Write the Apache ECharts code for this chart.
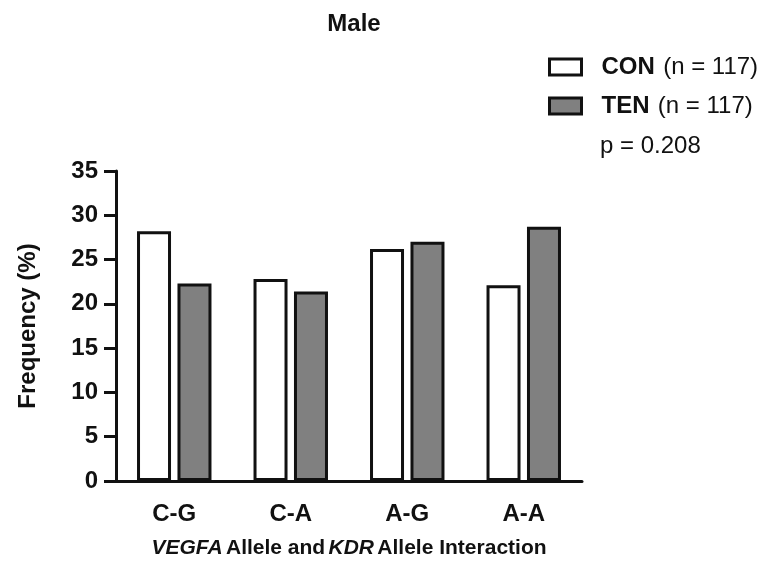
<!DOCTYPE html>
<html>
<head>
<meta charset="utf-8">
<script src="https://cdn.jsdelivr.net/npm/echarts@6/dist/echarts.min.js"></script>
<style>
  html, body { margin: 0; padding: 0; background: #fff; }
  #chart { width: 765px; height: 561px; }
</style>
</head>
<body>
<div id="chart"></div>
<script>
// haplotype categories
var categories = ["C-G", "C-A", "A-G", "A-A"];
// frequency (%) per group
var conData = [28.2, 22.8, 26.2, 22.1];
var tenData = [22.3, 21.4, 27.0, 28.7];
var yTicks = [0, 5, 10, 15, 20, 25, 30, 35];

var FONT = "'Liberation Sans', Arial, Helvetica, sans-serif";

var chart = echarts.init(document.getElementById("chart"));

var option = {
  animation: false,
  backgroundColor: "#fff",
  title: [
    {
      text: "Male",
      left: 349,
      top: 7,
      textAlign: "center",
      textStyle: { fontFamily: FONT, fontSize: 24, fontWeight: "bold", color: "#111" }
    },
    {
      text: "p = 0.208",
      left: 595,
      top: 129,
      textStyle: { fontFamily: FONT, fontSize: 24, fontWeight: "normal", color: "#111" }
    }
  ],
  legend: {
    orient: "vertical",
    left: 548,
    top: 55,
    padding: 0,
    itemWidth: 32,
    itemHeight: 16,
    itemGap: 15,
    icon: "rect",
    data: [
      { name: "CON", itemStyle: { color: "#fff", borderColor: "#111", borderWidth: 3 } },
      { name: "TEN", itemStyle: { color: "#808080", borderColor: "#111", borderWidth: 3 } }
    ],
    formatter: function (name) {
      return "{b|" + name + "} {n|(n = 117)}";
    },
    textStyle: {
      padding: [0, 0, 0, 15],
      rich: {
        b: { fontFamily: FONT, fontSize: 24, fontWeight: "bold", color: "#111", lineHeight: 26 },
        n: { fontFamily: FONT, fontSize: 24, color: "#111", lineHeight: 26, padding: [0, 0, 0, 5] }
      }
    }
  },
  grid: {
    left: 116,
    right: 183,
    top: 171,
    bottom: 80,
    containLabel: false,
    outerBoundsMode: "none"
  },
  xAxis: {
    type: "category",
    data: categories,
    name: "{i|VEGFA} {r|Allele and} {i|KDR} {r|Allele Interaction}",
    nameLocation: "middle",
    nameGap: 57,
    nameTextStyle: {
      rich: {
        i: { fontFamily: FONT, fontSize: 21, fontWeight: "bold", fontStyle: "italic", color: "#111" },
        r: { fontFamily: FONT, fontSize: 21, fontWeight: "bold", color: "#111" }
      }
    },
    axisLine: { lineStyle: { color: "#111", width: 3 } },
    axisTick: {
      alignWithLabel: true,
      length: 11,
      lineStyle: { color: "#111", width: 3 }
    },
    axisLabel: {
      margin: 21,
      fontFamily: FONT,
      fontSize: 24,
      fontWeight: "bold",
      color: "#111"
    },
    splitLine: { show: false }
  },
  yAxis: {
    type: "value",
    min: yTicks[0],
    max: yTicks[yTicks.length - 1],
    interval: 5,
    name: "Frequency (%)",
    nameLocation: "middle",
    nameGap: 76,
    nameTextStyle: { fontFamily: FONT, fontSize: 24, fontWeight: "bold", color: "#111" },
    axisLine: { show: true, lineStyle: { color: "#111", width: 3 } },
    axisTick: { show: true, length: 12, lineStyle: { color: "#111", width: 3 } },
    axisLabel: {
      margin: 18,
      fontFamily: FONT,
      fontSize: 24,
      fontWeight: "bold",
      color: "#111"
    },
    splitLine: { show: false }
  },
  series: [
    {
      name: "CON",
      type: "bar",
      data: conData,
      barWidth: 34,
      barGap: "19%",
      itemStyle: { color: "#fff", borderColor: "#111", borderWidth: 3 }
    },
    {
      name: "TEN",
      type: "bar",
      data: tenData,
      barWidth: 34,
      itemStyle: { color: "#808080", borderColor: "#111", borderWidth: 3 }
    }
  ]
};

chart.setOption(option);
</script>
</body>
</html>
